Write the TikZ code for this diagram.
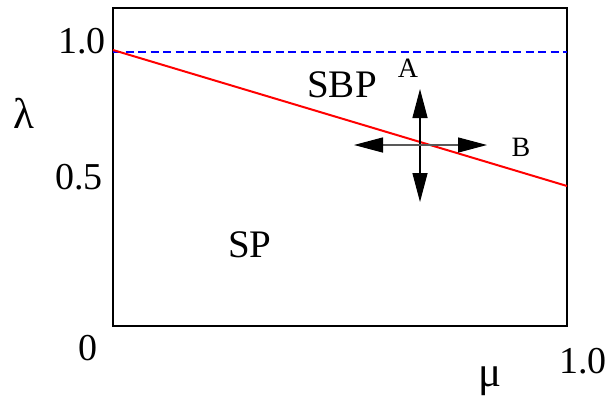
\documentclass[tikz,border=0pt]{standalone}
\usepackage{fontspec}
\setmainfont{Liberation Serif}
\usetikzlibrary{arrows.meta,positioning}
\tikzset{
    framebox/.style={
        line width=1.8pt,
        black
    },
    % boundary between the two phases
    phaseline/.style={
        line width=2pt,
        red
    },
    upperline/.style={
        line width=2pt,
        blue,
        dash pattern=on 8pt off 4.5pt
    },
    bigarrow/.style={
        line width=1.4pt,
        <->,
        >={Triangle[length=29pt, width=15pt, color=black]}
    },
    ticklabel/.style={inner sep=0pt, font=\fontsize{38}{38}\selectfont},
    axislabel/.style={inner sep=0pt, font=\fontsize{43}{43}\selectfont},
    regionlabel/.style={inner sep=0pt, font=\fontsize{39}{39}\selectfont},
    dirlabel/.style={inner sep=0pt, font=\fontsize{28}{28}\selectfont}
}
\begin{document}
\begin{tikzpicture}[x=1pt, y=-1pt]
	\useasboundingbox (0,0) rectangle (610,400);

	\draw[framebox] (113,8) rectangle (567,326);
	\draw[upperline] (113,52) -- (567,52);
	\draw[phaseline] (113,50) -- (567,186);

	\coordinate (uptip) at (420,89);
	\coordinate (downtip) at (420,202);
	\coordinate (lefttip) at (354,145);
	\coordinate (righttip) at (487,145);
	\draw[bigarrow, black] (downtip) -- (uptip);
	\draw[bigarrow, black!65] (lefttip) -- (righttip);

	\node [ticklabel] (ytop) at (82,41) {1.0};
	\node [ticklabel] (ymid) at (79,177) {0.5};
	\node [ticklabel] (orig) at (88,348) {0};
	\node [ticklabel] (xend) at (583,361) {1.0};
	\node [axislabel] (lam) at (24,113) {λ};
	\node [axislabel] (mu) at (490,381) {μ};

	\node [regionlabel] (sbp) at (342,85) {SBP};
	\node [regionlabel] (sp) at (250,245) {SP};
	\node [dirlabel] (dira) at (408,68) {A};
	\node [dirlabel] (dirb) at (521,147) {B};
\end{tikzpicture}
\end{document}
